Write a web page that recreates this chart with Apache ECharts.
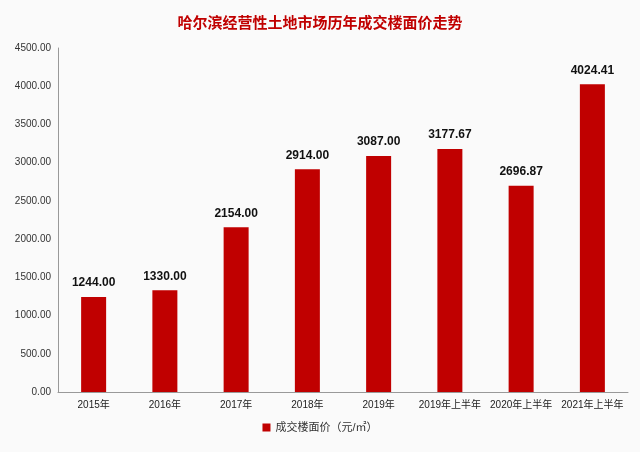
<!DOCTYPE html>
<html><head><meta charset="utf-8">
<script src="https://cdn.jsdelivr.net/npm/echarts@6/dist/echarts.min.js"></script>
<style>html,body{margin:0;padding:0;background:#fafafa;}#c{width:640px;height:452px;}</style>
</head><body><div id="c"></div>
<script>
const categories = ['2015年','2016年','2017年','2018年','2019年','2019年上半年','2020年上半年','2021年上半年'];
const values = [1244.00,1330.00,2154.00,2914.00,3087.00,3177.67,2696.87,4024.41];
const seriesName = '成交楼面价（元/㎡）';
const titleText = '哈尔滨经营性土地市场历年成交楼面价走势';
const chart = echarts.init(document.getElementById('c'));
const font = '"Liberation Sans", "Noto Sans CJK SC", sans-serif';
const cjk = '"Noto Sans CJK SC", sans-serif';
chart.setOption({
  backgroundColor:'#fafafa',
  animation:false,
  title:{text:titleText,left:'center',top:10,textStyle:{color:'#c00000',fontSize:15,fontWeight:'bold',fontFamily:cjk}},
  grid:{left:58,right:12,top:48,bottom:60},
  legend:{bottom:14,left:'center',itemWidth:8,itemHeight:8,icon:'rect',itemGap:4,textStyle:{fontSize:11,color:'#333',fontFamily:font},data:[seriesName]},
  xAxis:{type:'category',data:categories,axisLine:{lineStyle:{color:'#999'}},axisTick:{show:false},axisLabel:{interval:0,color:'#222',fontSize:10,fontFamily:font,margin:8}},
  yAxis:{type:'value',min:0,max:4500,interval:500,axisLine:{show:true,lineStyle:{color:'#999'}},axisTick:{show:false},splitLine:{show:false},axisLabel:{color:'#333',fontSize:10,fontFamily:font,margin:7,formatter:v=>v.toFixed(2)}},
  series:[{name:seriesName,type:'bar',data:values,barWidth:25,itemStyle:{color:'#c00000'},
    label:{show:true,position:'top',distance:8,color:'#111',fontWeight:'bold',fontSize:12,fontFamily:font,formatter:p=>p.value.toFixed(2)}}]
});
</script></body></html>
